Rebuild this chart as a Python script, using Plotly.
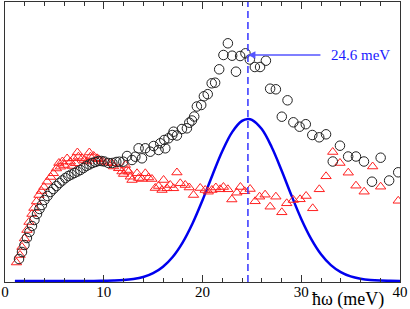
import plotly.graph_objects as go

# Open circles (black) : energy (meV), intensity (arb. units)
circle_x = [1.42, 1.72, 1.97, 2.22, 2.48, 2.73, 2.98, 3.24, 3.49, 3.74,
            3.99, 4.30, 4.60, 4.90, 5.21, 5.51, 5.81, 6.12, 6.42, 6.72,
            7.03, 7.33, 7.63, 7.94, 8.24, 8.54, 8.85, 9.15, 9.45, 9.76,
            10.06, 10.47, 10.87, 11.27, 11.58, 11.98, 12.36, 12.86, 13.20, 13.53,
            13.87, 14.21, 14.71, 15.05, 15.55, 15.72, 16.13, 16.23, 16.56, 16.94,
            17.07, 17.41, 17.92, 18.42, 18.66, 18.93, 19.16, 19.43, 19.87, 20.14,
            20.53, 20.93, 21.28, 21.69, 22.12, 22.57, 23.00, 23.39, 23.81, 24.35,
            24.79, 25.30, 25.83, 26.42, 26.85, 27.43, 28.03, 28.61, 29.20, 29.83,
            30.46, 31.12, 31.82, 32.51, 33.19, 33.92, 34.75, 35.54, 36.35, 37.16,
            38.04, 38.90, 39.82]
circle_y = [23, 30, 37, 44, 50, 56, 62, 68, 73, 77,
            82, 86, 90, 93, 96, 99, 101.5, 104, 106, 107.5,
            109, 110.5, 112, 114, 116, 117.5, 119, 120, 121, 121,
            120.5, 119, 119, 120, 120.3, 120.3, 126, 122, 125.3, 133.7,
            123.7, 133.7, 130.3, 136, 132, 138.7, 142, 133.7, 143.7, 147,
            150.3, 146.5, 153, 153.7, 159.3, 161.5, 165.5, 175.5, 177, 185.7,
            187.8, 198.7, 199.3, 212.7, 227, 238.7, 226.3, 210.3, 226, 228.7,
            222.5, 215, 215, 221.3, 193.3, 192.7, 165.3, 181.7, 159.7, 155.3,
            157.8, 147, 144.7, 147.7, 120.5, 136.3, 125.5, 125.5, 120.5, 100.3,
            124.3, 101.5, 109.7]

# Open triangles (red)
tri_x = [1.16, 1.52, 1.72, 1.97, 2.22, 2.43, 2.73, 2.93, 3.19, 3.44,
         3.69, 3.94, 4.27, 4.63, 4.90, 5.21, 5.46, 5.61, 5.81, 6.02,
         6.29, 6.62, 6.77, 6.96, 7.13, 7.33, 7.43, 7.81, 8.04, 8.29,
         8.54, 8.65, 8.98, 9.32, 9.48, 9.83, 10.33, 10.84, 11.00, 11.51,
         11.85, 12.01, 12.18, 12.36, 12.52, 12.69, 12.86, 13.37, 13.53, 13.87,
         14.21, 14.54, 14.88, 15.22, 15.55, 15.90, 16.06, 16.40, 16.73, 17.07,
         17.41, 17.75, 18.25, 18.66, 19.09, 19.77, 20.27, 20.58, 20.95, 21.35,
         21.79, 22.12, 22.57, 22.97, 23.48, 23.84, 24.27, 24.82, 25.33, 25.78,
         26.34, 26.85, 27.43, 28.03, 28.53, 29.20, 29.88, 30.49, 31.16, 31.83,
         32.51, 33.19, 33.92, 34.76, 35.54, 36.37, 37.23, 38.04, 39.82]
tri_y = [19.5, 27, 35, 43.5, 52, 60, 68, 74, 80.5, 87,
         91, 95, 100.3, 105, 108.7, 113.5, 119, 115.3, 120.5, 117,
         123.5, 120.3, 116, 123.7, 118.7, 129.5, 125.3, 123.7, 122, 120.5,
         129.5, 125.3, 126, 123.7, 122.7, 121, 119.5, 118.7, 115.5, 113.7,
         110.5, 108, 117, 112, 110.3, 105.3, 102, 108.7, 104, 103,
         108.7, 104.5, 103, 94, 96, 92, 102, 93.7, 97, 93.7,
         109.5, 98.7, 97, 94.5, 87, 94, 92, 90.3, 92, 94.5,
         92.7, 95, 92.7, 82.5, 89.3, 95, 90.7, 93, 80.7, 85.3,
         87.3, 75.3, 85.3, 69.7, 78.7, 82, 82.7, 86, 73.7, 92.7,
         105.7, 130, 119, 109.3, 96.3, 90.3, 115.5, 95.3, 81.2]

# Blue model curve
curve_x = [1, 2, 3, 4, 5, 6, 7, 8, 9, 10,
           11, 12, 13, 14, 15, 16, 17, 18, 19, 20,
           21, 22, 23, 24, 24.6, 25, 26, 27, 28, 29,
           30, 31, 32, 33, 34, 35, 36, 37, 38, 39, 40]
curve_y = [1, 1, 1, 1, 1, 1, 1, 1, 1, 1.2,
           1.4, 1.9, 3, 5, 8.8, 15.3, 25.3, 39.7, 58.8, 81.8,
           106.8, 130.7, 149.9, 161.1, 163, 162.2, 152.9, 135, 111.8, 86.7,
           63.1, 43.2, 27.8, 16.9, 9.9, 5.6, 3.3, 2, 1.4, 1.2, 1.1]

peak_energy = 24.6
peak_label = "24.6 meV"
x_ticks = [0, 10, 20, 30, 40]

serif = "Liberation Serif"

fig = go.Figure()
fig.add_trace(go.Scatter(x=curve_x, y=curve_y, mode="lines",
                         line=dict(color="#0000ee", width=2.5, shape="spline"),
                         hoverinfo="skip"))
fig.add_trace(go.Scatter(x=tri_x, y=tri_y, mode="markers",
                         marker=dict(symbol="triangle-up-open", size=9,
                                     color="#ff2020", line=dict(width=1))))
fig.add_trace(go.Scatter(x=circle_x, y=circle_y, mode="markers",
                         marker=dict(symbol="circle-open", size=9.5,
                                     color="#222222", line=dict(width=1))))

fig.add_shape(type="line", x0=peak_energy, x1=peak_energy, y0=0, y1=1,
              xref="x", yref="paper",
              line=dict(color="#3333ff", width=1.5, dash="7px,4px"))

arrow_y = 227
fig.add_annotation(x=peak_energy, y=arrow_y, xref="x", yref="y",
                   ax=74, ay=0, axref="pixel", ayref="pixel",
                   text="", showarrow=True, arrowhead=2, arrowsize=1,
                   arrowwidth=1.5, arrowcolor="#5555ff")
fig.add_annotation(x=33.1, y=arrow_y, xref="x", yref="y",
                   text=peak_label, showarrow=False, xanchor="left",
                   yanchor="middle", xshift=-3,
                   font=dict(family=serif, size=15, color="#1a1aff"))
fig.add_annotation(x=0.772, y=-0.064, xref="paper", yref="paper",
                   text="ħω (meV)", showarrow=False, xanchor="left",
                   yanchor="middle",
                   font=dict(family=serif, size=18, color="black"))

fig.update_layout(
    width=410, height=309,
    margin=dict(l=4.5, r=10, t=2, b=27, autoexpand=False),
    paper_bgcolor="white", plot_bgcolor="white",
    showlegend=False,
    font=dict(family=serif, size=15, color="black"),
)
fig.update_xaxes(range=[0, 40], tickvals=x_ticks, ticktext=[str(v) for v in x_ticks],
                 ticks="inside", ticklen=7, tickwidth=1, tickcolor="#333333",
                 minor=dict(dtick=2, ticks="inside", ticklen=4, tickcolor="#333333"),
                 showline=True, linecolor="#333333", linewidth=1, mirror="ticks",
                 showgrid=False, zeroline=False, automargin=False,
                 ticklabelstandoff=-4,
                 tickfont=dict(family=serif, size=15, color="black"))
fig.update_yaxes(range=[0, 280], showticklabels=False, ticks="",
                 showline=True, linecolor="#333333", linewidth=1, mirror=True,
                 showgrid=False, zeroline=False, automargin=False)

fig.write_html("out.html", config={"displayModeBar": False},
               post_script="document.body.style.margin='0';document.body.style.padding='0';")
